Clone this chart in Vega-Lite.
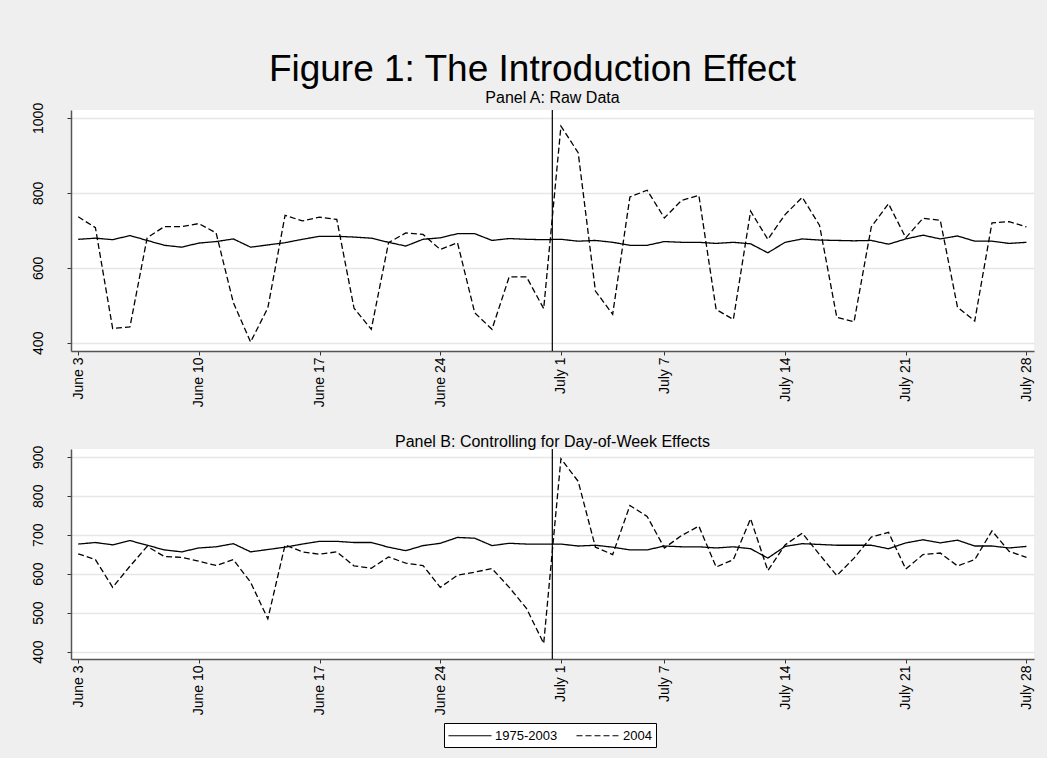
{
  "$schema": "https://vega.github.io/schema/vega-lite/v6.json",
  "background": "#efefef",
  "padding": {"left": 30, "top": 51, "right": 13, "bottom": 10},
  "title": {"text": "Figure 1: The Introduction Effect", "fontSize": 37, "font": "Liberation Sans", "fontWeight": "normal", "color": "black", "anchor": "middle", "offset": 1},
  "datasets": {
    "series": [
      {"panel":"A","series":"1975-2003","date":"2004-06-03","value":676},
      {"panel":"A","series":"1975-2003","date":"2004-06-04","value":679},
      {"panel":"A","series":"1975-2003","date":"2004-06-05","value":675},
      {"panel":"A","series":"1975-2003","date":"2004-06-06","value":686},
      {"panel":"A","series":"1975-2003","date":"2004-06-07","value":673},
      {"panel":"A","series":"1975-2003","date":"2004-06-08","value":660},
      {"panel":"A","series":"1975-2003","date":"2004-06-09","value":655},
      {"panel":"A","series":"1975-2003","date":"2004-06-10","value":666},
      {"panel":"A","series":"1975-2003","date":"2004-06-11","value":670},
      {"panel":"A","series":"1975-2003","date":"2004-06-12","value":677},
      {"panel":"A","series":"1975-2003","date":"2004-06-13","value":655},
      {"panel":"A","series":"1975-2003","date":"2004-06-14","value":661},
      {"panel":"A","series":"1975-2003","date":"2004-06-15","value":667},
      {"panel":"A","series":"1975-2003","date":"2004-06-16","value":676},
      {"panel":"A","series":"1975-2003","date":"2004-06-17","value":684},
      {"panel":"A","series":"1975-2003","date":"2004-06-18","value":684},
      {"panel":"A","series":"1975-2003","date":"2004-06-19","value":682},
      {"panel":"A","series":"1975-2003","date":"2004-06-20","value":679},
      {"panel":"A","series":"1975-2003","date":"2004-06-21","value":668},
      {"panel":"A","series":"1975-2003","date":"2004-06-22","value":658},
      {"panel":"A","series":"1975-2003","date":"2004-06-23","value":676},
      {"panel":"A","series":"1975-2003","date":"2004-06-24","value":680},
      {"panel":"A","series":"1975-2003","date":"2004-06-25","value":691},
      {"panel":"A","series":"1975-2003","date":"2004-06-26","value":691},
      {"panel":"A","series":"1975-2003","date":"2004-06-27","value":673},
      {"panel":"A","series":"1975-2003","date":"2004-06-28","value":678},
      {"panel":"A","series":"1975-2003","date":"2004-06-29","value":676},
      {"panel":"A","series":"1975-2003","date":"2004-06-30","value":675},
      {"panel":"A","series":"1975-2003","date":"2004-07-01","value":676},
      {"panel":"A","series":"1975-2003","date":"2004-07-02","value":671},
      {"panel":"A","series":"1975-2003","date":"2004-07-03","value":673},
      {"panel":"A","series":"1975-2003","date":"2004-07-04","value":668},
      {"panel":"A","series":"1975-2003","date":"2004-07-05","value":660},
      {"panel":"A","series":"1975-2003","date":"2004-07-06","value":660},
      {"panel":"A","series":"1975-2003","date":"2004-07-07","value":670},
      {"panel":"A","series":"1975-2003","date":"2004-07-08","value":668},
      {"panel":"A","series":"1975-2003","date":"2004-07-09","value":668},
      {"panel":"A","series":"1975-2003","date":"2004-07-10","value":665},
      {"panel":"A","series":"1975-2003","date":"2004-07-11","value":668},
      {"panel":"A","series":"1975-2003","date":"2004-07-12","value":664},
      {"panel":"A","series":"1975-2003","date":"2004-07-13","value":640},
      {"panel":"A","series":"1975-2003","date":"2004-07-14","value":668},
      {"panel":"A","series":"1975-2003","date":"2004-07-15","value":677},
      {"panel":"A","series":"1975-2003","date":"2004-07-16","value":674},
      {"panel":"A","series":"1975-2003","date":"2004-07-17","value":673},
      {"panel":"A","series":"1975-2003","date":"2004-07-18","value":672},
      {"panel":"A","series":"1975-2003","date":"2004-07-19","value":673},
      {"panel":"A","series":"1975-2003","date":"2004-07-20","value":663},
      {"panel":"A","series":"1975-2003","date":"2004-07-21","value":677},
      {"panel":"A","series":"1975-2003","date":"2004-07-22","value":687},
      {"panel":"A","series":"1975-2003","date":"2004-07-23","value":677},
      {"panel":"A","series":"1975-2003","date":"2004-07-24","value":685},
      {"panel":"A","series":"1975-2003","date":"2004-07-25","value":671},
      {"panel":"A","series":"1975-2003","date":"2004-07-26","value":671},
      {"panel":"A","series":"1975-2003","date":"2004-07-27","value":665},
      {"panel":"A","series":"1975-2003","date":"2004-07-28","value":668},
      {"panel":"A","series":"2004","date":"2004-06-03","value":736},
      {"panel":"A","series":"2004","date":"2004-06-04","value":707},
      {"panel":"A","series":"2004","date":"2004-06-05","value":438},
      {"panel":"A","series":"2004","date":"2004-06-06","value":442},
      {"panel":"A","series":"2004","date":"2004-06-07","value":680},
      {"panel":"A","series":"2004","date":"2004-06-08","value":710},
      {"panel":"A","series":"2004","date":"2004-06-09","value":710},
      {"panel":"A","series":"2004","date":"2004-06-10","value":718},
      {"panel":"A","series":"2004","date":"2004-06-11","value":693},
      {"panel":"A","series":"2004","date":"2004-06-12","value":507},
      {"panel":"A","series":"2004","date":"2004-06-13","value":402},
      {"panel":"A","series":"2004","date":"2004-06-14","value":493},
      {"panel":"A","series":"2004","date":"2004-06-15","value":740},
      {"panel":"A","series":"2004","date":"2004-06-16","value":725},
      {"panel":"A","series":"2004","date":"2004-06-17","value":735},
      {"panel":"A","series":"2004","date":"2004-06-18","value":729},
      {"panel":"A","series":"2004","date":"2004-06-19","value":492},
      {"panel":"A","series":"2004","date":"2004-06-20","value":436},
      {"panel":"A","series":"2004","date":"2004-06-21","value":667},
      {"panel":"A","series":"2004","date":"2004-06-22","value":693},
      {"panel":"A","series":"2004","date":"2004-06-23","value":689},
      {"panel":"A","series":"2004","date":"2004-06-24","value":649},
      {"panel":"A","series":"2004","date":"2004-06-25","value":667},
      {"panel":"A","series":"2004","date":"2004-06-26","value":480},
      {"panel":"A","series":"2004","date":"2004-06-27","value":436},
      {"panel":"A","series":"2004","date":"2004-06-28","value":576},
      {"panel":"A","series":"2004","date":"2004-06-29","value":576},
      {"panel":"A","series":"2004","date":"2004-06-30","value":491},
      {"panel":"A","series":"2004","date":"2004-07-01","value":978},
      {"panel":"A","series":"2004","date":"2004-07-02","value":907},
      {"panel":"A","series":"2004","date":"2004-07-03","value":538},
      {"panel":"A","series":"2004","date":"2004-07-04","value":476},
      {"panel":"A","series":"2004","date":"2004-07-05","value":789},
      {"panel":"A","series":"2004","date":"2004-07-06","value":807},
      {"panel":"A","series":"2004","date":"2004-07-07","value":733},
      {"panel":"A","series":"2004","date":"2004-07-08","value":780},
      {"panel":"A","series":"2004","date":"2004-07-09","value":793},
      {"panel":"A","series":"2004","date":"2004-07-10","value":489},
      {"panel":"A","series":"2004","date":"2004-07-11","value":462},
      {"panel":"A","series":"2004","date":"2004-07-12","value":751},
      {"panel":"A","series":"2004","date":"2004-07-13","value":676},
      {"panel":"A","series":"2004","date":"2004-07-14","value":742},
      {"panel":"A","series":"2004","date":"2004-07-15","value":788},
      {"panel":"A","series":"2004","date":"2004-07-16","value":713},
      {"panel":"A","series":"2004","date":"2004-07-17","value":468},
      {"panel":"A","series":"2004","date":"2004-07-18","value":456},
      {"panel":"A","series":"2004","date":"2004-07-19","value":709},
      {"panel":"A","series":"2004","date":"2004-07-20","value":771},
      {"panel":"A","series":"2004","date":"2004-07-21","value":680},
      {"panel":"A","series":"2004","date":"2004-07-22","value":732},
      {"panel":"A","series":"2004","date":"2004-07-23","value":727},
      {"panel":"A","series":"2004","date":"2004-07-24","value":495},
      {"panel":"A","series":"2004","date":"2004-07-25","value":458},
      {"panel":"A","series":"2004","date":"2004-07-26","value":720},
      {"panel":"A","series":"2004","date":"2004-07-27","value":723},
      {"panel":"A","series":"2004","date":"2004-07-28","value":709},
      {"panel":"B","series":"1975-2003","date":"2004-06-03","value":676},
      {"panel":"B","series":"1975-2003","date":"2004-06-04","value":680},
      {"panel":"B","series":"1975-2003","date":"2004-06-05","value":674},
      {"panel":"B","series":"1975-2003","date":"2004-06-06","value":685},
      {"panel":"B","series":"1975-2003","date":"2004-06-07","value":673},
      {"panel":"B","series":"1975-2003","date":"2004-06-08","value":661},
      {"panel":"B","series":"1975-2003","date":"2004-06-09","value":656},
      {"panel":"B","series":"1975-2003","date":"2004-06-10","value":666},
      {"panel":"B","series":"1975-2003","date":"2004-06-11","value":669},
      {"panel":"B","series":"1975-2003","date":"2004-06-12","value":677},
      {"panel":"B","series":"1975-2003","date":"2004-06-13","value":656},
      {"panel":"B","series":"1975-2003","date":"2004-06-14","value":662},
      {"panel":"B","series":"1975-2003","date":"2004-06-15","value":668},
      {"panel":"B","series":"1975-2003","date":"2004-06-16","value":676},
      {"panel":"B","series":"1975-2003","date":"2004-06-17","value":683},
      {"panel":"B","series":"1975-2003","date":"2004-06-18","value":683},
      {"panel":"B","series":"1975-2003","date":"2004-06-19","value":680},
      {"panel":"B","series":"1975-2003","date":"2004-06-20","value":680},
      {"panel":"B","series":"1975-2003","date":"2004-06-21","value":668},
      {"panel":"B","series":"1975-2003","date":"2004-06-22","value":659},
      {"panel":"B","series":"1975-2003","date":"2004-06-23","value":672},
      {"panel":"B","series":"1975-2003","date":"2004-06-24","value":678},
      {"panel":"B","series":"1975-2003","date":"2004-06-25","value":693},
      {"panel":"B","series":"1975-2003","date":"2004-06-26","value":691},
      {"panel":"B","series":"1975-2003","date":"2004-06-27","value":672},
      {"panel":"B","series":"1975-2003","date":"2004-06-28","value":678},
      {"panel":"B","series":"1975-2003","date":"2004-06-29","value":676},
      {"panel":"B","series":"1975-2003","date":"2004-06-30","value":676},
      {"panel":"B","series":"1975-2003","date":"2004-07-01","value":676},
      {"panel":"B","series":"1975-2003","date":"2004-07-02","value":671},
      {"panel":"B","series":"1975-2003","date":"2004-07-03","value":673},
      {"panel":"B","series":"1975-2003","date":"2004-07-04","value":668},
      {"panel":"B","series":"1975-2003","date":"2004-07-05","value":661},
      {"panel":"B","series":"1975-2003","date":"2004-07-06","value":661},
      {"panel":"B","series":"1975-2003","date":"2004-07-07","value":671},
      {"panel":"B","series":"1975-2003","date":"2004-07-08","value":669},
      {"panel":"B","series":"1975-2003","date":"2004-07-09","value":669},
      {"panel":"B","series":"1975-2003","date":"2004-07-10","value":666},
      {"panel":"B","series":"1975-2003","date":"2004-07-11","value":669},
      {"panel":"B","series":"1975-2003","date":"2004-07-12","value":664},
      {"panel":"B","series":"1975-2003","date":"2004-07-13","value":640},
      {"panel":"B","series":"1975-2003","date":"2004-07-14","value":670},
      {"panel":"B","series":"1975-2003","date":"2004-07-15","value":677},
      {"panel":"B","series":"1975-2003","date":"2004-07-16","value":675},
      {"panel":"B","series":"1975-2003","date":"2004-07-17","value":673},
      {"panel":"B","series":"1975-2003","date":"2004-07-18","value":673},
      {"panel":"B","series":"1975-2003","date":"2004-07-19","value":673},
      {"panel":"B","series":"1975-2003","date":"2004-07-20","value":664},
      {"panel":"B","series":"1975-2003","date":"2004-07-21","value":679},
      {"panel":"B","series":"1975-2003","date":"2004-07-22","value":687},
      {"panel":"B","series":"1975-2003","date":"2004-07-23","value":679},
      {"panel":"B","series":"1975-2003","date":"2004-07-24","value":686},
      {"panel":"B","series":"1975-2003","date":"2004-07-25","value":671},
      {"panel":"B","series":"1975-2003","date":"2004-07-26","value":671},
      {"panel":"B","series":"1975-2003","date":"2004-07-27","value":666},
      {"panel":"B","series":"1975-2003","date":"2004-07-28","value":670},
      {"panel":"B","series":"2004","date":"2004-06-03","value":651},
      {"panel":"B","series":"2004","date":"2004-06-04","value":636},
      {"panel":"B","series":"2004","date":"2004-06-05","value":565},
      {"panel":"B","series":"2004","date":"2004-06-06","value":619},
      {"panel":"B","series":"2004","date":"2004-06-07","value":670},
      {"panel":"B","series":"2004","date":"2004-06-08","value":644},
      {"panel":"B","series":"2004","date":"2004-06-09","value":642},
      {"panel":"B","series":"2004","date":"2004-06-10","value":632},
      {"panel":"B","series":"2004","date":"2004-06-11","value":621},
      {"panel":"B","series":"2004","date":"2004-06-12","value":636},
      {"panel":"B","series":"2004","date":"2004-06-13","value":578},
      {"panel":"B","series":"2004","date":"2004-06-14","value":484},
      {"panel":"B","series":"2004","date":"2004-06-15","value":674},
      {"panel":"B","series":"2004","date":"2004-06-16","value":656},
      {"panel":"B","series":"2004","date":"2004-06-17","value":650},
      {"panel":"B","series":"2004","date":"2004-06-18","value":656},
      {"panel":"B","series":"2004","date":"2004-06-19","value":620},
      {"panel":"B","series":"2004","date":"2004-06-20","value":614},
      {"panel":"B","series":"2004","date":"2004-06-21","value":643},
      {"panel":"B","series":"2004","date":"2004-06-22","value":627},
      {"panel":"B","series":"2004","date":"2004-06-23","value":621},
      {"panel":"B","series":"2004","date":"2004-06-24","value":565},
      {"panel":"B","series":"2004","date":"2004-06-25","value":596},
      {"panel":"B","series":"2004","date":"2004-06-26","value":604},
      {"panel":"B","series":"2004","date":"2004-06-27","value":613},
      {"panel":"B","series":"2004","date":"2004-06-28","value":565},
      {"panel":"B","series":"2004","date":"2004-06-29","value":511},
      {"panel":"B","series":"2004","date":"2004-06-30","value":421},
      {"panel":"B","series":"2004","date":"2004-07-01","value":895},
      {"panel":"B","series":"2004","date":"2004-07-02","value":837},
      {"panel":"B","series":"2004","date":"2004-07-03","value":668},
      {"panel":"B","series":"2004","date":"2004-07-04","value":649},
      {"panel":"B","series":"2004","date":"2004-07-05","value":775},
      {"panel":"B","series":"2004","date":"2004-07-06","value":747},
      {"panel":"B","series":"2004","date":"2004-07-07","value":666},
      {"panel":"B","series":"2004","date":"2004-07-08","value":698},
      {"panel":"B","series":"2004","date":"2004-07-09","value":722},
      {"panel":"B","series":"2004","date":"2004-07-10","value":617},
      {"panel":"B","series":"2004","date":"2004-07-11","value":636},
      {"panel":"B","series":"2004","date":"2004-07-12","value":741},
      {"panel":"B","series":"2004","date":"2004-07-13","value":608},
      {"panel":"B","series":"2004","date":"2004-07-14","value":674},
      {"panel":"B","series":"2004","date":"2004-07-15","value":704},
      {"panel":"B","series":"2004","date":"2004-07-16","value":649},
      {"panel":"B","series":"2004","date":"2004-07-17","value":595},
      {"panel":"B","series":"2004","date":"2004-07-18","value":640},
      {"panel":"B","series":"2004","date":"2004-07-19","value":694},
      {"panel":"B","series":"2004","date":"2004-07-20","value":706},
      {"panel":"B","series":"2004","date":"2004-07-21","value":612},
      {"panel":"B","series":"2004","date":"2004-07-22","value":649},
      {"panel":"B","series":"2004","date":"2004-07-23","value":653},
      {"panel":"B","series":"2004","date":"2004-07-24","value":620},
      {"panel":"B","series":"2004","date":"2004-07-25","value":636},
      {"panel":"B","series":"2004","date":"2004-07-26","value":710},
      {"panel":"B","series":"2004","date":"2004-07-27","value":657},
      {"panel":"B","series":"2004","date":"2004-07-28","value":642}
    ],
    "intro": [{"event": "introduction", "date": "2004-06-30T12:00:00Z"}]
  },
  "spacing": 27,
  "vconcat": [
    {
      "width": 963,
      "height": 241,
      "title": {"text": "Panel A: Raw Data", "offset": -4},
      "layer": [
        {
          "data": {"name": "series"},
          "transform": [{"filter": "datum.panel === 'A'"}],
          "mark": {"type": "line", "color": "black", "strokeWidth": 1.3},
          "encoding": {
            "x": {"field": "date", "type": "temporal",
              "scale": {"type": "utc", "domain": [{"year": 2004, "month": "June", "date": 2, "hours": 14, "utc": true}, {"year": 2004, "month": "July", "date": 28, "hours": 10, "minutes": 30, "utc": true}]},
              "axis": {"title": null, "grid": false, "labelAngle": -90, "labelExpr": "utcFormat(datum.value, '%B %-d')",
                "values": [
                  {"year": 2004, "month": "June", "date": 3, "utc": true},
                  {"year": 2004, "month": "June", "date": 10, "utc": true},
                  {"year": 2004, "month": "June", "date": 17, "utc": true},
                  {"year": 2004, "month": "June", "date": 24, "utc": true},
                  {"year": 2004, "month": "July", "date": 1, "utc": true},
                  {"year": 2004, "month": "July", "date": 7, "utc": true},
                  {"year": 2004, "month": "July", "date": 14, "utc": true},
                  {"year": 2004, "month": "July", "date": 21, "utc": true},
                  {"year": 2004, "month": "July", "date": 28, "utc": true}
                ]}},
            "y": {"field": "value", "type": "quantitative",
              "scale": {"domain": [378, 1021], "nice": false, "zero": false},
              "axis": {"title": null, "format": "d", "values": [400, 600, 800, 1000], "labelAngle": -90, "labelAlign": "center", "labelBaseline": "bottom"}},
            "strokeDash": {"field": "series", "type": "nominal",
              "scale": {"domain": ["1975-2003", "2004"], "range": [[1, 0], [6, 3]]},
              "legend": {"title": null, "orient": "none", "legendX": 373, "legendY": 613, "direction": "horizontal"}}
          }
        },
        {
          "data": {"name": "intro"},
          "mark": {"type": "rule", "color": "black", "strokeWidth": 1.2},
          "encoding": {"x": {"field": "date", "type": "temporal"}}
        }
      ]
    },
    {
      "width": 963,
      "height": 210,
      "title": {"text": "Panel B: Controlling for Day-of-Week Effects", "offset": -5},
      "layer": [
        {
          "data": {"name": "series"},
          "transform": [{"filter": "datum.panel === 'B'"}],
          "mark": {"type": "line", "color": "black", "strokeWidth": 1.3},
          "encoding": {
            "x": {"field": "date", "type": "temporal",
              "scale": {"type": "utc", "domain": [{"year": 2004, "month": "June", "date": 2, "hours": 14, "utc": true}, {"year": 2004, "month": "July", "date": 28, "hours": 10, "minutes": 30, "utc": true}]},
              "axis": {"title": null, "grid": false, "labelAngle": -90, "labelExpr": "utcFormat(datum.value, '%B %-d')",
                "values": [
                  {"year": 2004, "month": "June", "date": 3, "utc": true},
                  {"year": 2004, "month": "June", "date": 10, "utc": true},
                  {"year": 2004, "month": "June", "date": 17, "utc": true},
                  {"year": 2004, "month": "June", "date": 24, "utc": true},
                  {"year": 2004, "month": "July", "date": 1, "utc": true},
                  {"year": 2004, "month": "July", "date": 7, "utc": true},
                  {"year": 2004, "month": "July", "date": 14, "utc": true},
                  {"year": 2004, "month": "July", "date": 21, "utc": true},
                  {"year": 2004, "month": "July", "date": 28, "utc": true}
                ]}},
            "y": {"field": "value", "type": "quantitative",
              "scale": {"domain": [381, 920], "nice": false, "zero": false},
              "axis": {"title": null, "format": "d", "values": [400, 500, 600, 700, 800, 900], "labelAngle": -90, "labelAlign": "center", "labelBaseline": "bottom"}},
            "strokeDash": {"field": "series", "type": "nominal",
              "scale": {"domain": ["1975-2003", "2004"], "range": [[1, 0], [6, 3]]},
              "legend": {"title": null, "orient": "none", "legendX": 373, "legendY": 613, "direction": "horizontal"}}
          }
        },
        {
          "data": {"name": "intro"},
          "mark": {"type": "rule", "color": "black", "strokeWidth": 1.2},
          "encoding": {"x": {"field": "date", "type": "temporal"}}
        }
      ]
    }
  ],
  "resolve": {"scale": {"x": "independent", "y": "independent"}},
  "config": {
    "font": "Liberation Sans",
    "view": {"stroke": null, "fill": "white"},
    "title": {"fontSize": 16, "fontWeight": "normal", "font": "Liberation Sans", "color": "black"},
    "axis": {
      "labelFont": "Liberation Sans", "labelFontSize": 14, "labelColor": "black",
      "domainColor": "#555555", "domainWidth": 1.5,
      "tickColor": "#333333", "tickSize": 4, "tickWidth": 1,
      "labelPadding": 2,
      "gridColor": "#e6e6e6", "gridWidth": 1.5
    },
    "axisY": {"labelPadding": 22},
    "legend": {
      "strokeColor": "black", "fillColor": "white", "padding": 4,
      "symbolType": "M-1.07,0H4.67", "symbolSize": 225, "symbolStrokeWidth": 1.2, "symbolStrokeColor": "black",
      "labelFont": "Liberation Sans", "labelFontSize": 13, "labelColor": "black",
      "columnPadding": 16, "labelOffset": 30, "cornerRadius": 0
    }
  }
}
